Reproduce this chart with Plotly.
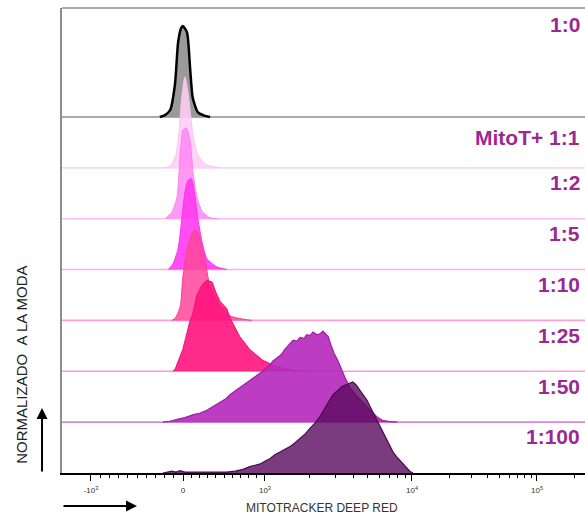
import numpy as np
import plotly.graph_objects as go

# ---------------- data ----------------
SAMPLES = ["1:0", "MitoT+ 1:1", "1:2", "1:5", "1:10", "1:25", "1:50", "1:100"]

# histogram x = display channel (biexponential scale, 0-1000), y = % of mode
CH_1_0 = [187, 197, 207, 216, 222, 228, 231, 239, 245, 250, 260, 272, 283]
PCT_1_0 = [0, 2, 8, 36, 82, 98, 100, 93, 53, 21, 5, 1.5, 0]

CH_1_1 = [193, 203, 210, 218, 224, 229, 235, 241, 247, 252, 260, 270, 279, 291, 302]
PCT_1_1 = [0, 1, 4, 15, 40, 78, 100, 82, 52, 30, 14, 6, 2.5, 1, 0]

CH_1_2 = [197, 210, 220, 226, 231, 237, 245, 250, 258, 268, 283, 298]
PCT_1_2 = [0, 7, 24, 72, 97, 100, 86, 53, 24, 8, 1, 0]

CH_1_5 = [203, 212, 222, 229, 235, 241, 247, 254, 260, 268, 277, 296, 315]
PCT_1_5 = [0, 6, 23, 55, 85, 98, 100, 81, 55, 30, 12, 3, 0]

CH_1_10 = [210, 216, 226, 231, 239, 249, 254, 260, 268, 273, 283, 293, 302, 321, 340, 363]
PCT_1_10 = [0, 2, 15, 47, 78, 96, 100, 96, 78, 68, 37, 26, 16, 5, 2, 0]

CH_1_25 = [212, 216, 231, 245, 250, 258, 268, 277, 287, 294, 302, 315, 321, 331, 340,
           359, 384, 411, 442, 474]
PCT_1_25 = [0, 2, 24, 56, 63, 84, 95, 100, 98, 87, 77, 69, 59, 48, 38, 24, 12, 5, 1, 0]

CH_1_50 = [193, 206, 220, 235, 250, 264, 277, 289, 302, 314, 321, 331, 340, 350, 359,
           369, 379, 388, 398, 403, 411, 419, 426, 434, 442, 449, 455, 463, 468, 474,
           480, 488, 493, 499, 505, 509, 514, 520, 528, 535, 541, 551, 560, 570, 581,
           593, 602, 612, 627, 641]
PCT_1_50 = [0, 1, 3, 5, 8, 10, 13, 17, 22, 26, 30, 34, 38, 42, 46, 50, 54, 58, 63, 67,
            71, 74, 80, 85, 90, 89, 93, 92, 96, 95, 99, 96, 97, 100, 97, 94, 85, 76, 67, 57,
            49, 38, 31, 25, 18, 11, 6, 2, 0.5, 0]

CH_1_100 = [193, 203, 210, 218, 226, 235, 245, 264, 283, 302, 315, 331, 346, 359, 371,
            379, 388, 398, 407, 417, 426, 436, 445, 455, 465, 474, 484, 493, 501, 507,
            512, 518, 526, 535, 543, 551, 556, 562, 570, 577, 583, 589, 595, 602, 608,
            616, 621, 627, 633, 641, 650, 658, 665, 671]
PCT_1_100 = [0, 1.5, 2, 1, 2.5, 1, 1, 1, 1.5, 1, 1, 2, 4, 7, 9, 10, 13, 16, 20, 23,
             26, 29, 33, 38, 43, 49, 55, 62, 70, 75, 80, 86, 90, 95, 97, 99, 100, 97, 91, 85,
             80, 73, 66, 58, 51, 43, 36, 30, 23, 17, 11, 6, 2, 0]

TICK_VALUES = [-1000, 0, 1000, 10000, 100000]
TICK_TEXT = ["-10<sup>3</sup>", "0", "10<sup>3</sup>", "10<sup>4</sup>", "10<sup>5</sup>"]
MINOR_VALUES = ([-v for v in range(100, 1000, 100)] + list(range(100, 1000, 100))
                + list(range(2000, 10000, 1000)) + list(range(20000, 100000, 10000))
                + [200000])

X_TITLE = "MITOTRACKER DEEP RED"
Y_TITLE = "NORMALIZADO\u00a0\u00a0A LA MODA"

# ---------------- scale ----------------
BIEX_B = [-1, 0, 1, 2, 3, 4]
BIEX_CH = [55.4, 231.4, 388.1, 669.2, 908.2, 1147.2]


def to_channel(v):
    v = np.asarray(v, dtype=float)
    a = np.abs(v)
    b = np.where(a <= 1000, v / 1000.0,
                 np.sign(v) * (1 + np.log10(np.maximum(a, 1) / 1000.0)))
    return np.interp(b, BIEX_B, BIEX_CH)


series = [
    (CH_1_0, PCT_1_0), (CH_1_1, PCT_1_1), (CH_1_2, PCT_1_2), (CH_1_5, PCT_1_5),
    (CH_1_10, PCT_1_10), (CH_1_25, PCT_1_25), (CH_1_50, PCT_1_50), (CH_1_100, PCT_1_100),
]

styles = [
    dict(fill="#9a9a9a", line="#000000", lw=2.5, base="#8c8c8c", shape="spline"),
    dict(fill="rgba(255,205,245,0.88)", line="#ffc2f0", lw=1, base="#ffd5f7", shape="spline"),
    dict(fill="rgba(255,135,245,0.85)", line="#ff80f0", lw=1, base="#ffc0fa", shape="spline"),
    dict(fill="rgba(255,55,240,0.88)", line="#ff2ef0", lw=1, base="#ffaaf2", shape="spline"),
    dict(fill="rgba(255,70,155,0.85)", line="#ff3a95", lw=1, base="#ff9fd0", shape="spline"),
    dict(fill="rgba(255,20,125,0.9)", line="#f0106f", lw=1, base="#ff9ccc", shape="linear"),
    dict(fill="rgba(182,45,188,0.92)", line="#9d1fa4", lw=1.2, base="#d58ad8", shape="linear"),
    dict(fill="rgba(90,10,95,0.8)", line="#4c0b4e", lw=1.2, base="#000000", shape="linear"),
]

n = len(SAMPLES)
ROW_H = 1.79          # peak height in row units
Y_TOP = 9.143

fig = go.Figure()
shapes = []
for i, (name, (ch, pct), st) in enumerate(zip(SAMPLES, series, styles)):
    k = n - 1 - i
    y = [k + p / 100.0 * ROW_H for p in pct]
    if k > 0:
        shapes.append(dict(type="line", xref="paper", x0=0, x1=1, yref="y", y0=k, y1=k,
                           line=dict(color=st["base"], width=1.6), layer="below"))
    fig.add_trace(go.Scatter(
        x=ch, y=y, mode="lines", fill="toself", fillcolor=st["fill"],
        line=dict(color=st["line"], width=st["lw"], shape=st["shape"], smoothing=0.6),
        hoverinfo="skip", showlegend=False, name=name))

# top frame line
shapes.append(dict(type="line", xref="paper", x0=0, x1=1, yref="paper", y0=1, y1=1,
                   line=dict(color="#8c8c8c", width=1.6)))

annotations = []
label_font = dict(family="Liberation Sans, Arial", size=21, color="#9b2a90")
for i, name in enumerate(SAMPLES):
    k = n - 1 - i
    if k == n - 1:
        ly = Y_TOP - 0.33
    elif k == n - 2:
        ly = k + 0.6
    else:
        ly = k + 0.71
    annotations.append(dict(text="<b>%s</b>" % name, xref="paper", x=0.9943, xanchor="right",
                            yref="y", y=ly, yanchor="middle", showarrow=False, font=label_font))

# axis titles and arrows
annotations.append(dict(text=X_TITLE, xref="paper", yref="paper", x=0.497, y=-0.075,
                        showarrow=False, xanchor="center", yanchor="middle",
                        font=dict(family="Liberation Sans, Arial", size=12, color="#333333")))
annotations.append(dict(text=Y_TITLE, xref="paper", yref="paper", x=-0.079, y=0.232,
                        textangle=-90, showarrow=False, xanchor="center", yanchor="middle",
                        font=dict(family="Liberation Sans, Arial", size=15, color="#222222")))
annotations.append(dict(text="", xref="paper", yref="paper", x=-0.0382, y=0.1398,
                        ax=0, ay=65, showarrow=True, arrowhead=2, arrowsize=1.1,
                        arrowwidth=2, arrowcolor="#000000", standoff=0, startstandoff=0))
annotations.append(dict(text="", xref="paper", yref="paper", x=0.1434, y=-0.071,
                        ax=-75, ay=0, showarrow=True, arrowhead=2, arrowsize=1.1,
                        arrowwidth=2, arrowcolor="#000000", standoff=0, startstandoff=0))

fig.update_layout(
    width=585, height=525,
    margin=dict(l=62, r=0, t=8, b=52),
    paper_bgcolor="white", plot_bgcolor="white",
    shapes=shapes, annotations=annotations,
    xaxis=dict(range=[0, 1000], showgrid=False, zeroline=False,
               showline=True, linecolor="#000000", linewidth=1.5,
               tickmode="array", tickvals=list(to_channel(TICK_VALUES)), ticktext=TICK_TEXT,
               ticks="outside", ticklen=6, tickwidth=1.2, tickcolor="#000000",
               ticklabelstandoff=3,
               tickfont=dict(family="Liberation Sans, Arial", size=8, color="#333333"),
               minor=dict(tickmode="array", tickvals=list(to_channel(MINOR_VALUES)),
                          ticks="outside", ticklen=3, tickwidth=1, tickcolor="#000000")),
    yaxis=dict(range=[0, Y_TOP], showgrid=False, zeroline=False, showticklabels=False,
               ticks="", showline=True, linecolor="#8c8c8c", linewidth=1.5),
)

fig.write_html("out.html")
